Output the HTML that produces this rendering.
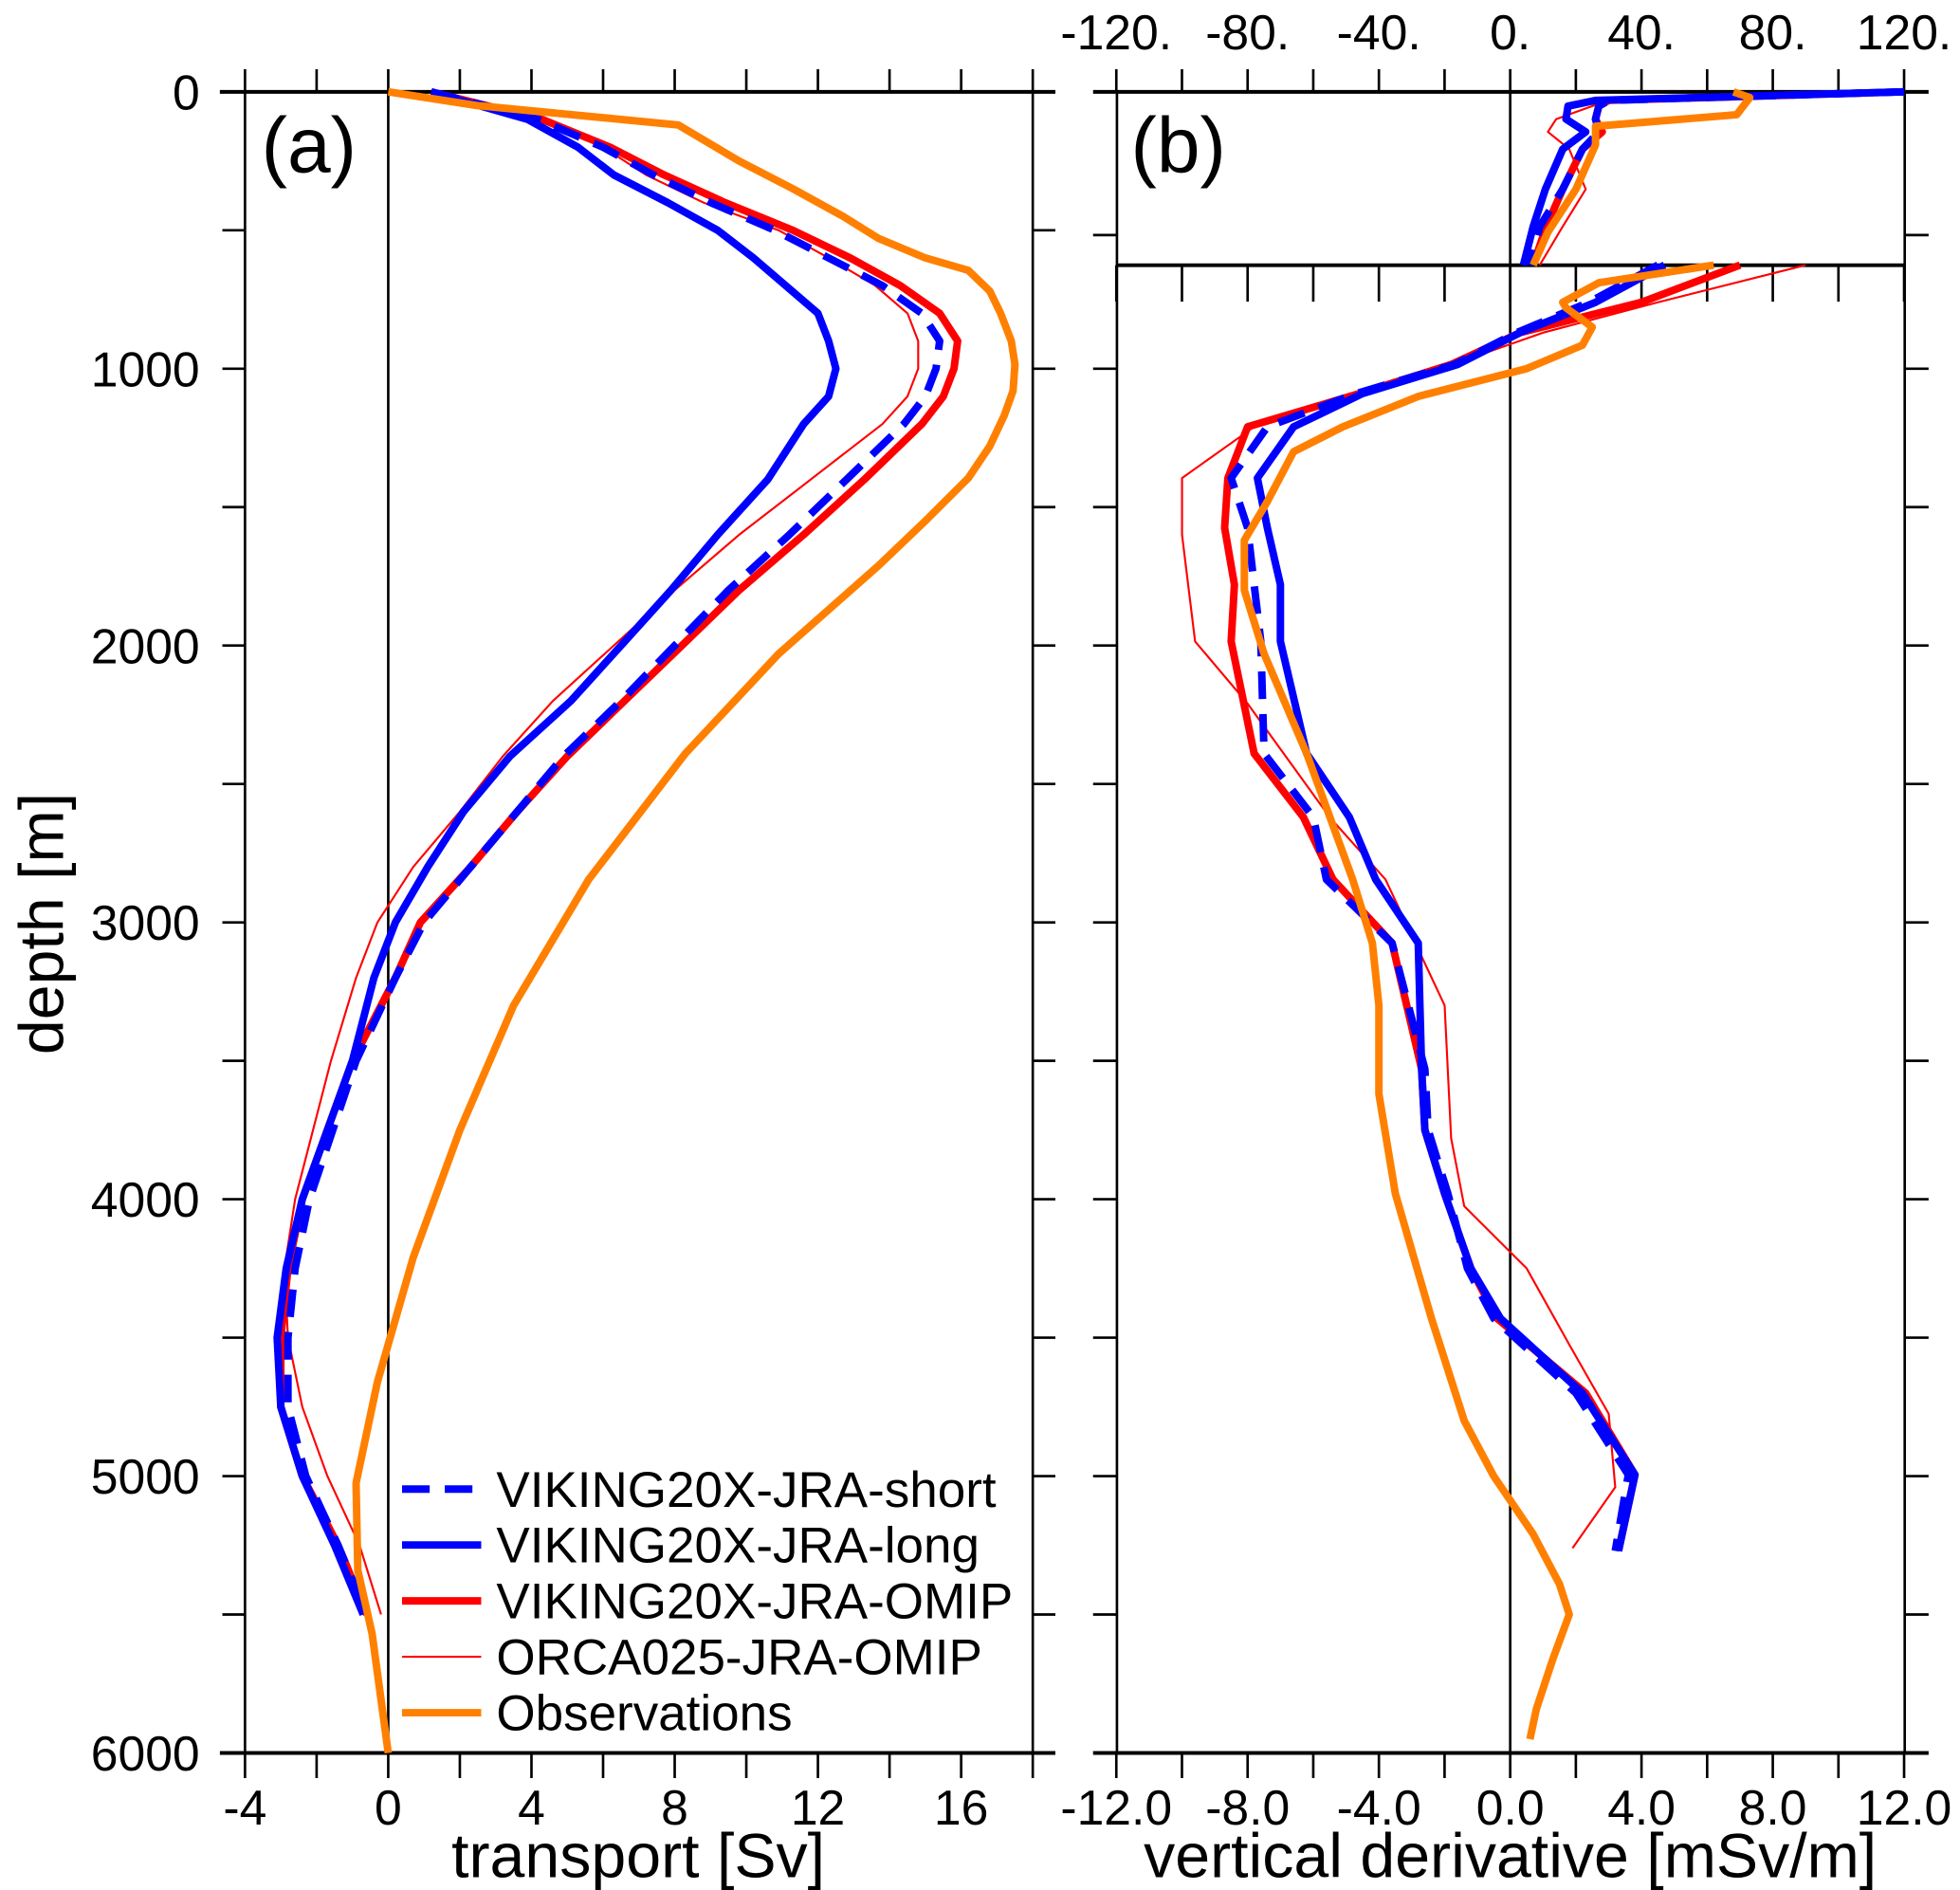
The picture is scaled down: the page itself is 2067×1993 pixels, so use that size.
<!DOCTYPE html>
<html><head><meta charset="utf-8"><style>
html,body{margin:0;padding:0;background:#fff;}
svg{display:block;}
text{font-family:"Liberation Sans",sans-serif;fill:#000;}
</style></head><body>
<svg id="chart" width="2067" height="1993" viewBox="0 0 1560 1504" xmlns="http://www.w3.org/2000/svg">
<g id="axes"></g>
<g id="series"></g>
<g id="legend"></g>
</svg>
<script>
// ---------- data ----------
const depthTicks = [0,1000,2000,3000,4000,5000,6000];
const transportTicks = [-4,0,4,8,12,16];
const derivTicks = ["-12.0","-8.0","-4.0","0.0","4.0","8.0","12.0"];
const topTicks = ["-120.","-80.","-40.","0.","40.","80.","120."];
const seriesNames = ["VIKING20X-JRA-short","VIKING20X-JRA-long","VIKING20X-JRA-OMIP","ORCA025-JRA-OMIP","Observations"];

// panel (a): depth [m], transport [Sv]
const depthA = [0,100,200,300,400,500,600,700,800,900,1000,1100,1200,1400,1600,1800,2000,2200,2400,2600,2800,3000,3200,3500,4000,4250,4500,4750,5000,5250,5500];
const longA  = [1.2,3.9,5.3,6.3,7.8,9.2,10.2,11.1,12.0,12.3,12.5,12.3,11.6,10.6,9.2,7.9,6.5,5.1,3.4,2.1,1.1,0.2,-0.4,-1.0,-2.4,-2.85,-3.1,-3.0,-2.4,-1.5,-0.7];
const shortA = [1.2,4.2,6.0,7.4,9.0,10.8,12.3,13.8,14.9,15.4,15.3,15.0,14.4,12.8,11.2,9.5,8.0,6.5,4.9,3.6,2.3,1.0,0.2,-0.9,-2.2,-2.6,-2.8,-2.8,-2.3,-1.4,-0.6];
const omipA  = [1.2,4.3,6.2,7.7,9.4,11.3,12.9,14.3,15.4,15.9,15.8,15.5,14.9,13.3,11.6,9.8,8.2,6.6,5.0,3.6,2.3,0.9,0.2,-1.0,-2.4,-2.8,-3.0,-3.0,-2.4,-1.4,-0.6];
const orcaA  = [1.2,4.3,6.0,7.2,8.8,10.9,12.3,13.6,14.5,14.8,14.8,14.5,13.8,11.8,9.8,8.0,6.3,4.6,3.2,2.0,0.7,-0.3,-0.9,-1.6,-2.6,-2.9,-2.8,-2.4,-1.7,-0.8,-0.2];
const obsDepthA = [0,50,120,250,350,450,530,600,645,720,800,900,985,1080,1170,1280,1395,1550,1710,2030,2390,2845,3300,3750,4210,4660,5025,5340,5570,6000];
const obsA      = [0,2.5,8.1,9.8,11.3,12.7,13.7,15.0,16.2,16.8,17.1,17.4,17.5,17.45,17.2,16.8,16.2,15.0,13.7,10.9,8.3,5.6,3.5,2.0,0.7,-0.3,-0.9,-0.85,-0.45,0];

// panel (b) upper: depth 0-121 m, derivative (x10)
const depthBt = [0,6,10,19,28,40,68,94,121];
const longBt  = [120,26,17.6,17,23,16,10.7,7,4];
const shortBt = [120,30,27,26,27,22,16,9,6];
const omipBt  = [120,30,27,26,28,22,16,11,7];
const orcaBt  = [120,30,25,14,11.5,18,23,16,9];
const obsDepthBt = [0,4,16,24,37,68,98,121];
const obsBt      = [68,73,69,26,26,20,11.5,7];

// panel (b) lower: depth [m], derivative [mSv/m]
const depthB = [626,760,870,985,1090,1210,1395,1575,1780,1985,2390,2620,2845,3075,3530,3750,3980,4250,4430,4700,4995,5270];
const longB  = [4.7,2.6,0.3,-1.6,-4.5,-6.6,-7.7,-7.4,-7.0,-7.0,-6.2,-4.9,-4.1,-2.8,-2.7,-2.6,-2.0,-1.2,-0.3,2.2,3.8,3.3];
const shortB = [4.5,2.4,0.2,-1.7,-4.7,-7.4,-8.5,-8.0,-7.8,-7.6,-7.5,-6.0,-5.6,-3.6,-2.6,-2.5,-1.9,-1.3,-0.5,2.0,3.6,3.2];
const omipB  = [7.0,4.0,0.3,-1.8,-4.6,-8.0,-8.6,-8.7,-8.4,-8.5,-7.8,-6.3,-5.4,-3.6,-2.7,-2.6,-2.0,-1.2,-0.4,2.3,3.8,3.3];
const orcaDepthB = [626,760,870,1090,1210,1395,1600,1985,2210,2620,2845,3300,3780,4025,4250,4525,4775,5040,5260];
const orcaB      = [9.0,4.5,1.0,-4.3,-7.8,-10.0,-10.0,-9.6,-8.0,-5.5,-3.8,-2.0,-1.8,-1.4,0.5,1.8,3.0,3.2,1.9];
const obsDepthB = [626,690,760,780,850,915,1000,1100,1210,1300,1390,1480,1620,1800,2030,2390,2845,3075,3300,3620,3980,4430,4800,5000,5210,5390,5500,5660,5840,5950];
const obsB      = [6.2,2.7,1.6,1.7,2.5,2.2,0.5,-2.8,-5.1,-6.6,-7.0,-7.4,-8.1,-8.1,-7.5,-6.2,-4.8,-4.2,-4.0,-4.0,-3.5,-2.4,-1.4,-0.5,0.7,1.5,1.8,1.3,0.8,0.6];

// ---------- axis functions ----------
const Y0 = 73, YPM = (1395-73)/6000;
const yA = d => Y0 + d*YPM;
const xA = v => 309 + v*28.5;
const xB = v => 1202 + v*26.125;
const xBt = v => 1202 + v*2.6125;
const yBt = d => 73 + d*1.14;
const NS = "http://www.w3.org/2000/svg";
function mk(tag, attrs, parent){
  const e = document.createElementNS(NS, tag);
  for (const k in attrs) e.setAttribute(k, attrs[k]);
  parent.appendChild(e); return e;
}
const axes = document.getElementById('axes');
const ser = document.getElementById('series');
const leg = document.getElementById('legend');

function line(x1,y1,x2,y2,w,name){
  const l = mk('line',{x1,y1,x2,y2,stroke:'#000','stroke-width':w},axes);
  
  
  return l;
}
function txt(x,y,s,size,anchor,name,extra){
  const t = mk('text',Object.assign({x,y,'font-size':size,'text-anchor':anchor},extra||{}),axes);
  t.textContent = s;
  
  
  return t;
}

// ----- panel a frame -----
line(195,73,195,1395,2,'panel-a-left-axis');
line(822,73,822,1395,2,'panel-a-right-axis');
line(309,73,309,1395,2,'panel-a-zero-line');
line(175,73,840,73,3,'panel-a-top-axis');
line(175,1395,840,1395,3,'panel-a-bottom-axis');
for (let v=-4; v<=18; v+=2){
  line(xA(v),55,xA(v),73,2,'panel-a-top-tick');
  line(xA(v),1395,xA(v),1415,2,'panel-a-bottom-tick');
}
for (let d=500; d<6000; d+=500){
  line(177,yA(d),195,yA(d),2,'panel-a-left-tick');
  line(822,yA(d),840,yA(d),2,'panel-a-right-tick');
}
depthTicks.forEach(d=>txt(159,yA(d)+14,String(d),39,'end','y-tick-label'));
transportTicks.forEach(v=>txt(xA(v),1452,String(v),39,'middle','x-tick-label-a'));
txt(508,1494,'transport [Sv]',50,'middle','x-axis-title-a');
txt(50,735,'depth [m]',50,'middle','y-axis-title',{transform:'rotate(-90 50 735)'});
txt(208,137,'(a)',62,'start','panel-a-label');

// ----- panel b frame -----
line(889,73,889,1395,2,'panel-b-left-axis');
line(1516,73,1516,1395,2,'panel-b-right-axis');
line(1202,73,1202,1395,2,'panel-b-zero-line');
line(870,73,1535,73,3,'panel-b-top-axis');
line(889,211,1516,211,3,'panel-b-break-line');
line(870,1395,1535,1395,3,'panel-b-bottom-axis');
for (let v=-12; v<=12; v+=2){
  line(xB(v),55,xB(v),73,2,'panel-b-top-tick');
  line(xB(v),211,xB(v),240,2,'panel-b-break-tick');
  line(xB(v),1395,xB(v),1415,2,'panel-b-bottom-tick');
}
line(870,187,889,187,2,'panel-b-left-tick');
line(1516,187,1535,187,2,'panel-b-right-tick');
for (let d=1000; d<6000; d+=500){
  line(870,yA(d),889,yA(d),2,'panel-b-left-tick');
  line(1516,yA(d),1535,yA(d),2,'panel-b-right-tick');
}
derivTicks.forEach((s,i)=>txt(xB(-12+4*i),1452,s,39,'middle','x-tick-label-b'));
topTicks.forEach((s,i)=>txt(xB(-12+4*i),39,s,39,'middle','top-tick-label-b'));
txt(1202,1494,'vertical derivative [mSv/m]',50,'middle','x-axis-title-b');
txt(900,137,'(b)',62,'start','panel-b-label');

// ----- series -----
const styles = [
  {stroke:'#0000ff',w:6,dash:'22 12'},
  {stroke:'#0000ff',w:6,dash:null},
  {stroke:'#ff0000',w:6,dash:null},
  {stroke:'#ff0000',w:1.6,dash:null},
  {stroke:'#ff8000',w:6,dash:null}
];
function poly(xs, ys, fx, fy, st, name){
  const pts = xs.map((v,i)=>fx(v).toFixed(1)+','+fy(ys[i]).toFixed(1)).join(' ');
  const p = mk('polyline',{points:pts,fill:'none',stroke:st.stroke,'stroke-width':st.w,'stroke-linejoin':'round'},ser);
  if (st.dash) p.setAttribute('stroke-dasharray', st.dash);
  
  
}
poly(omipA, depthA, xA, yA, styles[2], 'omip-line-a');
poly(orcaA, depthA, xA, yA, styles[3], 'orca-line-a');
poly(longA, depthA, xA, yA, styles[1], 'long-line-a');
poly(shortA, depthA, xA, yA, styles[0], 'short-line-a');
poly(obsA, obsDepthA, xA, yA, styles[4], 'obs-line-a');

poly(omipBt, depthBt, xBt, yBt, styles[2], 'omip-line-b-top');
poly(orcaBt, depthBt, xBt, yBt, styles[3], 'orca-line-b-top');
poly(longBt, depthBt, xBt, yBt, styles[1], 'long-line-b-top');
poly(shortBt, depthBt, xBt, yBt, styles[0], 'short-line-b-top');
poly(obsBt, obsDepthBt, xBt, yBt, styles[4], 'obs-line-b-top');

poly(omipB, depthB, xB, yA, styles[2], 'omip-line-b');
poly(orcaB, orcaDepthB, xB, yA, styles[3], 'orca-line-b');
poly(longB, depthB, xB, yA, styles[1], 'long-line-b');
poly(shortB, depthB, xB, yA, styles[0], 'short-line-b');
poly(obsB, obsDepthB, xB, yA, styles[4], 'obs-line-b');

// ----- legend -----
seriesNames.forEach((n,i)=>{
  const y = 1185 + i*44.5;
  const st = styles[i];
  const l = mk('line',{x1:320,y1:y,x2:383,y2:y,stroke:st.stroke,'stroke-width':st.w},leg);
  if (st.dash) l.setAttribute('stroke-dasharray','22 12');
  
  
  const t = mk('text',{x:395,y:y+14,'font-size':40},leg);
  t.textContent = n;
  
  
});
</script>
</body></html>
